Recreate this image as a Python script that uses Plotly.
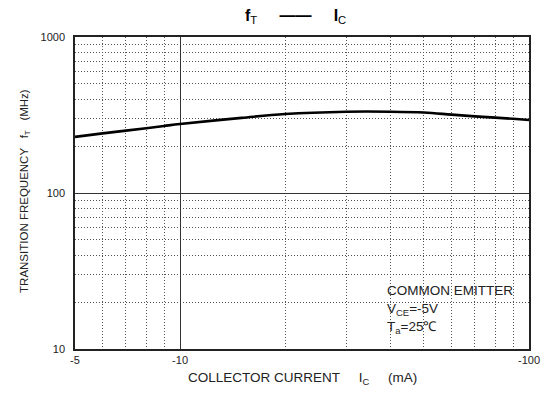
import plotly.graph_objects as go

# Data (collector current in mA, transition frequency in MHz)
ic_ma = [-5, -6, -7, -8, -9, -10, -15, -20, -30, -40, -50, -60, -70, -80, -90, -100]
ft_mhz = [229, 241, 251, 260, 269, 277, 303, 321, 332, 332, 328, 318, 310, 304, 299, 294]

x_tickvals = [5, 10, 100]
x_ticktext = ["-5", "-10", "-100"]
x_minor = [6, 7, 8, 9, 20, 30, 40, 50, 60, 70, 80, 90]
y_tickvals = [10, 100, 1000]
y_ticktext = ["10", "100", "1000"]
y_minor = [20, 30, 40, 50, 60, 70, 80, 90, 200, 300, 400, 500, 600, 700, 800, 900]

FONT = "Liberation Sans, Arial, sans-serif"

fig = go.Figure()
fig.add_trace(go.Scatter(
    x=[abs(v) for v in ic_ma], y=ft_mhz, mode="lines",
    line=dict(color="black", width=2.6, shape="spline"),
    showlegend=False, hoverinfo="skip",
))

axis_common = dict(
    type="log", showline=True, mirror=True, linecolor="#222", linewidth=1.5,
    ticks="", showgrid=True, gridcolor="#333", gridwidth=1, zeroline=False,
    tickfont=dict(family=FONT, size=11, color="#222"),
)
minor_common = dict(showgrid=True, gridcolor="#555", griddash="1px,2px", gridwidth=1, ticks="")

fig.update_xaxes(
    **axis_common, range=[0.69897, 2.0], tickvals=x_tickvals, ticktext=x_ticktext,
    minor=dict(tickvals=x_minor, **minor_common),
)
fig.update_yaxes(
    **axis_common, range=[1, 3], tickvals=y_tickvals, ticktext=y_ticktext,
    ticklabelstandoff=6,
    minor=dict(tickvals=y_minor, **minor_common),
)

sp3 = "\u00a0" * 3
sp5 = "\u00a0" * 5
annotations = [
    dict(text="<b>f</b><sub>T</sub>" + sp5 + "<b>——</b>" + sp5 + "<b>I</b><sub>C</sub>",
         x=0.485, y=1.065, xref="paper", yref="paper", showarrow=False,
         xanchor="center", yanchor="middle",
         font=dict(family=FONT, size=16, color="black")),
    dict(text="TRANSITION FREQUENCY" + sp3 + "f<sub>T</sub>" + sp3 + "(MHz)",
         x=-0.109, y=0.505, xref="paper", yref="paper", showarrow=False, textangle=-90,
         xanchor="center", yanchor="middle", font=dict(family=FONT, size=11.5, color="#222")),
    dict(text="COLLECTOR CURRENT" + sp5 + "I<sub>C</sub>" + sp5 + "(mA)",
         x=0.5, y=-0.095, xref="paper", yref="paper", showarrow=False,
         xanchor="center", yanchor="middle",
         font=dict(family=FONT, size=13.5, color="#222")),
    dict(text="COMMON EMITTER", x=0.683, y=0.189, xref="paper", yref="paper",
         showarrow=False, xanchor="left", yanchor="middle",
         font=dict(family=FONT, size=13.5, color="#222")),
    dict(text="V<sub>CE</sub>=-5V", x=0.683, y=0.128, xref="paper", yref="paper",
         showarrow=False, xanchor="left", yanchor="middle",
         font=dict(family=FONT, size=13.5, color="#222")),
    dict(text="T<sub>a</sub>=25℃", x=0.683, y=0.068, xref="paper", yref="paper",
         showarrow=False, xanchor="left", yanchor="middle",
         font=dict(family=FONT, size=13.5, color="#222")),
]

fig.update_layout(
    width=552, height=393,
    margin=dict(l=75, r=20, t=37, b=44),
    paper_bgcolor="white", plot_bgcolor="white",
    annotations=annotations,
    showlegend=False,
)

fig.write_html("out.html", config={"displayModeBar": False},
               post_script="document.body.style.margin='0';")
